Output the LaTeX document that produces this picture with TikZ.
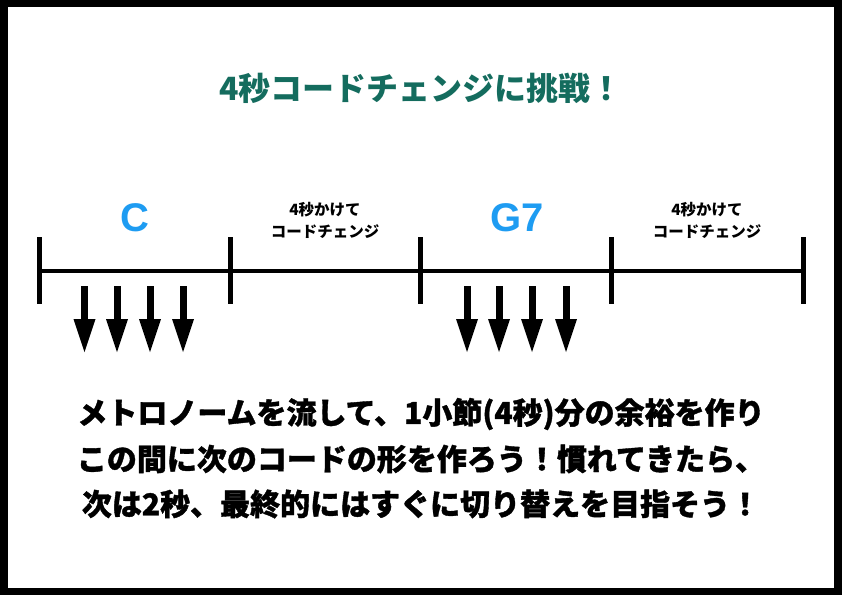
\documentclass[tikz,border=0pt]{standalone}
\usepackage{fontspec}
\newfontfamily\jp{Noto Sans CJK JP}
\newfontfamily\jpheavy{Noto Sans CJK JP}[BoldFeatures={FakeBold=1.2}]
\newfontfamily\lat{Liberation Sans}
\definecolor{titleteal}{HTML}{146C5E}
\definecolor{chordblue}{HTML}{1E9CF2}
\tikzset{
  titletext/.style={font=\jp\bfseries\fontsize{32}{32}\selectfont, text=titleteal, inner sep=0pt},
  chord/.style={font=\lat\bfseries\fontsize{40}{40}\selectfont, text=chordblue, inner sep=0pt},
  note/.style={font=\jp\bfseries\fontsize{15.5}{22}\selectfont, align=center, inner sep=0pt},
  body/.style={font=\jpheavy\bfseries\fontsize{30}{30}\selectfont, inner sep=0pt},
  tickline/.style={line width=5pt},
  axisline/.style={line width=4pt},
  beat/.pic={
    \fill[black] (-3.5,0) rectangle (3.5,34);
    \fill[black] (-11,33) -- (11,33) -- (0,66) -- cycle;
  }
}
\begin{document}
\begin{tikzpicture}[x=1pt,y=-1pt]
\useasboundingbox (0,0) rectangle (842,595);
\fill[black] (0,0) rectangle (842,595);
\fill[white] (8,7) rectangle (834,588);

\node[titletext] (title) at (421,88.5) {4秒コードチェンジに挑戦！};

% timeline
\foreach \n/\x in {0/39,1/230,2/420,3/611,4/803} {
  \coordinate (t\n) at (\x,271);
  \coordinate (t\n top) at (\x,237);
  \coordinate (t\n bot) at (\x,304);
  \draw[tickline] (t\n top) -- (t\n bot);
}
\draw[axisline] (t0) -- (t4);

\node[chord] (c) at (134.5,218) {C};
\node[chord] (g7) at (517,218) {G7};
\node[note] (n1) at (325,220.5) {4秒かけて\\コードチェンジ};
\node[note] (n2) at (707,220.5) {4秒かけて\\コードチェンジ};

\foreach \x in {84.5,117,150,183,467,499,532,566} {
  \pic at (\x,286) {beat};
}

\node[body] (l1) at (421,414) {メトロノームを流して、1小節(4秒)分の余裕を作り};
\node[body] (l2) at (421,459) {この間に次のコードの形を作ろう！慣れてきたら、};
\node[body] (l3) at (421,504) {次は2秒、最終的にはすぐに切り替えを目指そう！};
\end{tikzpicture}
\end{document}
